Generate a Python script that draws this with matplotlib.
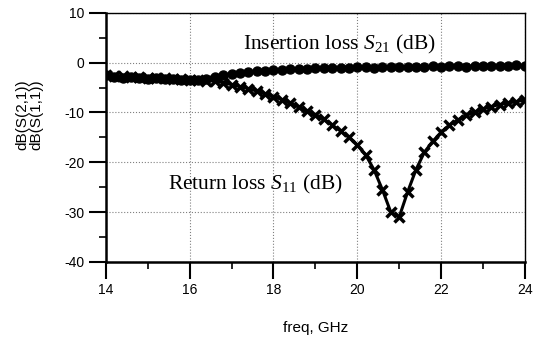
import matplotlib
matplotlib.use("Agg")
import matplotlib.pyplot as plt
from matplotlib.ticker import MultipleLocator

plt.rcParams["mathtext.fontset"] = "custom"
plt.rcParams["mathtext.rm"] = "Liberation Serif"
plt.rcParams["mathtext.it"] = "Liberation Serif:italic"
plt.rcParams["axes.unicode_minus"] = False

freq = [14.0, 14.2, 14.4, 14.6, 14.8, 15.0, 15.2, 15.4, 15.6, 15.8,
        16.0, 16.2, 16.4, 16.6, 16.8, 17.0, 17.2, 17.4, 17.6, 17.8,
        18.0, 18.2, 18.4, 18.6, 18.8, 19.0, 19.2, 19.4, 19.6, 19.8,
        20.0, 20.2, 20.4, 20.6, 20.8, 21.0, 21.2, 21.4, 21.6, 21.8,
        22.0, 22.2, 22.4, 22.6, 22.8, 23.0, 23.2, 23.4, 23.6, 23.8, 24.0]

s21 = [-2.5, -2.8, -3.0, -2.9, -3.1, -3.2, -3.0, -3.3, -3.2, -3.4,
       -3.5, -3.4, -3.2, -2.9, -2.5, -2.2, -2.0, -1.8, -1.7, -1.6,
       -1.5, -1.4, -1.3, -1.2, -1.2, -1.1, -1.1, -1.0, -1.0, -1.0,
       -0.9, -0.9, -1.0, -0.9, -0.8, -0.8, -0.9, -0.8, -0.8, -0.7,
       -0.8, -0.7, -0.7, -0.8, -0.6, -0.7, -0.6, -0.6, -0.7, -0.5, -0.6]

s11 = [-2.5, -2.6, -2.7, -2.8, -2.9, -3.0, -3.0, -3.1, -3.2, -3.3,
       -3.4, -3.5, -3.6, -3.7, -4.0, -4.4, -4.8, -5.2, -5.7, -6.2,
       -6.8, -7.4, -8.1, -8.9, -9.7, -10.5, -11.4, -12.5, -13.7, -15.0,
       -16.5, -18.5, -21.5, -25.5, -30.0, -31.0, -26.0, -21.5, -18.0, -15.8,
       -14.0, -12.5, -11.5, -10.6, -9.9, -9.3, -8.8, -8.4, -8.1, -7.8, -7.5]

fig = plt.figure(figsize=(5.4, 3.38), dpi=100)
ax = fig.add_axes([0.196, 0.225, 0.776, 0.737])

ax.plot(freq, s21, color="black", lw=2.2, marker="o", ms=6.5)
ax.plot(freq, s11, color="black", lw=2.2, marker="x", ms=7, mew=2.5)

ax.set_xlim(14, 24)
ax.set_ylim(-40, 10)
ax.xaxis.set_major_locator(MultipleLocator(2))
ax.xaxis.set_minor_locator(MultipleLocator(1))
ax.yaxis.set_major_locator(MultipleLocator(10))
ax.yaxis.set_minor_locator(MultipleLocator(5))
ax.tick_params(which="major", direction="out", length=12, width=1.5, labelsize=10)
ax.tick_params(which="minor", direction="out", length=5, width=1.2)
for lab in ax.get_xticklabels() + ax.get_yticklabels():
    lab.set_family("Liberation Sans")

ax.grid(True, which="major", color="gray", ls=":", lw=0.8)
ax.spines["left"].set_linewidth(1.8)
ax.spines["bottom"].set_linewidth(1.8)
ax.spines["top"].set_linewidth(1.0)
ax.spines["right"].set_linewidth(1.0)

ax.text(19.58, 3.6, r"Insertion loss $S_{21}$ (dB)", family="Liberation Serif",
        fontsize=15.5, ha="center", va="center")
ax.text(17.56, -24.5, r"Return loss $S_{11}$ (dB)", family="Liberation Serif",
        fontsize=15.5, ha="center", va="center")

ax.set_xlabel("freq, GHz", family="Liberation Sans", fontsize=11, labelpad=17)
fig.text(0.055, 0.66, "dB(S(2,1))\ndB(S(1,1))", rotation=90, family="Liberation Sans",
         fontsize=11, ha="center", va="center", linespacing=1.0)

fig.savefig("out.png", dpi=100)
